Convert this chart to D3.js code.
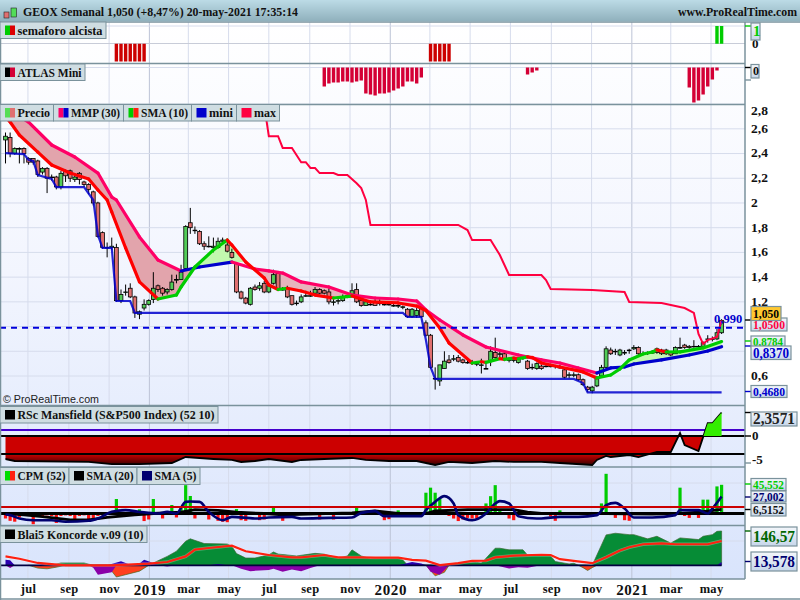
<!DOCTYPE html>
<html>
<head>
<meta charset="utf-8">
<script src="https://cdn.jsdelivr.net/npm/d3@7"></script>
<style>
  html, body { margin: 0; padding: 0; background: #fff; }
  svg { display: block; }
  text { font-family: "Liberation Serif", serif; font-weight: bold; }
</style>
</head>
<body>
<script>
// weekly candles, one entry per week, oldest first
const opens = [
  2.51, 2.53, 2.40, 2.44, 2.44, 2.36, 2.36, 2.34, 2.25, 2.28,
  2.21, 2.21, 2.13, 2.26, 2.26, 2.19, 2.24, 2.17, 2.15, 2.09,
  2.00, 1.76, 1.64, 1.64, 1.64, 1.21, 1.28, 1.31, 1.24, 1.10,
  1.15, 1.18, 1.22, 1.33, 1.31, 1.28, 1.30, 1.38, 1.38, 1.47,
  1.84, 1.78, 1.77, 1.67, 1.65, 1.64, 1.64, 1.69, 1.66, 1.60,
  1.51, 1.28, 1.23, 1.18, 1.32, 1.31, 1.35, 1.28, 1.35, 1.43,
  1.30, 1.31, 1.25, 1.19, 1.20, 1.25, 1.25, 1.27, 1.30, 1.29,
  1.28, 1.20, 1.21, 1.21, 1.25, 1.25, 1.30, 1.21, 1.17, 1.18,
  1.20, 1.19, 1.18, 1.18, 1.17, 1.17, 1.16, 1.14, 1.08, 1.09,
  1.15, 1.03, 0.93, 0.58, 0.56, 0.66, 0.73, 0.74, 0.75, 0.73,
  0.71, 0.71, 0.70, 0.69, 0.66, 0.72, 0.79, 0.78, 0.78, 0.73,
  0.73, 0.71, 0.75, 0.72, 0.67, 0.66, 0.68, 0.68, 0.68, 0.68,
  0.67, 0.65, 0.61, 0.61, 0.61, 0.57, 0.51, 0.48, 0.52, 0.60,
  0.67, 0.81, 0.80, 0.77, 0.79, 0.81, 0.82, 0.83, 0.78, 0.79,
  0.79, 0.82, 0.78, 0.81, 0.79, 0.78, 0.83, 0.85, 0.84, 0.84,
  0.84, 0.84, 0.90, 0.90, 0.90, 0.95
]
const closes = [
  2.54, 2.40, 2.44, 2.44, 2.40, 2.33, 2.33, 2.23, 2.28, 2.20,
  2.21, 2.13, 2.24, 2.22, 2.20, 2.21, 2.19, 2.15, 2.11, 2.00,
  1.73, 1.64, 1.64, 1.65, 1.21, 1.26, 1.28, 1.24, 1.11, 1.12,
  1.18, 1.21, 1.31, 1.30, 1.27, 1.30, 1.36, 1.38, 1.44, 1.81,
  1.80, 1.78, 1.67, 1.65, 1.65, 1.65, 1.69, 1.70, 1.61, 1.56,
  1.28, 1.23, 1.19, 1.31, 1.30, 1.33, 1.28, 1.33, 1.42, 1.30,
  1.30, 1.24, 1.18, 1.19, 1.24, 1.25, 1.25, 1.30, 1.27, 1.27,
  1.20, 1.20, 1.21, 1.24, 1.25, 1.29, 1.20, 1.17, 1.20, 1.18,
  1.17, 1.19, 1.18, 1.18, 1.17, 1.17, 1.16, 1.08, 1.14, 1.13,
  1.08, 0.93, 0.67, 0.58, 0.69, 0.72, 0.71, 0.74, 0.72, 0.71,
  0.71, 0.71, 0.70, 0.69, 0.66, 0.80, 0.75, 0.78, 0.74, 0.73,
  0.73, 0.74, 0.75, 0.66, 0.67, 0.70, 0.66, 0.68, 0.68, 0.68,
  0.67, 0.59, 0.61, 0.61, 0.57, 0.53, 0.49, 0.51, 0.59, 0.67,
  0.82, 0.78, 0.80, 0.81, 0.79, 0.81, 0.83, 0.78, 0.78, 0.79,
  0.79, 0.79, 0.81, 0.78, 0.77, 0.83, 0.83, 0.83, 0.83, 0.84,
  0.84, 0.87, 0.90, 0.90, 0.95, 1.05
]
const highs = [
  2.57, 2.57, 2.45, 2.45, 2.45, 2.37, 2.36, 2.35, 2.29, 2.29,
  2.23, 2.22, 2.26, 2.27, 2.27, 2.24, 2.25, 2.18, 2.16, 2.10,
  2.01, 1.77, 1.68, 1.72, 1.67, 1.30, 1.34, 1.35, 1.25, 1.13,
  1.22, 1.22, 1.44, 1.34, 1.32, 1.31, 1.42, 1.42, 1.50, 1.82,
  1.96, 1.81, 1.78, 1.69, 1.73, 1.72, 1.72, 1.72, 1.71, 1.63,
  1.51, 1.29, 1.24, 1.32, 1.34, 1.36, 1.37, 1.35, 1.46, 1.45,
  1.32, 1.33, 1.25, 1.21, 1.26, 1.29, 1.29, 1.32, 1.31, 1.30,
  1.31, 1.22, 1.23, 1.26, 1.26, 1.35, 1.35, 1.22, 1.22, 1.21,
  1.22, 1.22, 1.20, 1.20, 1.19, 1.18, 1.17, 1.15, 1.15, 1.15,
  1.16, 1.05, 0.94, 0.67, 0.69, 0.80, 0.77, 0.77, 0.77, 0.74,
  0.73, 0.73, 0.72, 0.74, 0.70, 0.84, 0.91, 0.81, 0.80, 0.75,
  0.75, 0.75, 0.77, 0.73, 0.70, 0.71, 0.69, 0.70, 0.70, 0.69,
  0.69, 0.66, 0.63, 0.63, 0.62, 0.58, 0.52, 0.52, 0.60, 0.69,
  0.84, 0.83, 0.82, 0.82, 0.81, 0.82, 0.85, 0.84, 0.80, 0.80,
  0.81, 0.83, 0.82, 0.82, 0.80, 0.84, 0.91, 0.86, 0.85, 0.89,
  0.85, 0.88, 0.93, 0.92, 0.98, 1.06
]
const lows = [
  2.32, 2.37, 2.39, 2.32, 2.32, 2.31, 2.31, 2.21, 2.23, 2.08,
  2.18, 2.11, 2.11, 2.17, 2.17, 2.17, 2.15, 2.13, 2.07, 1.98,
  1.72, 1.63, 1.56, 1.62, 1.20, 1.19, 1.25, 1.23, 1.07, 1.06,
  1.13, 1.17, 1.19, 1.28, 1.25, 1.26, 1.29, 1.35, 1.38, 1.46,
  1.75, 1.75, 1.66, 1.62, 1.64, 1.60, 1.63, 1.67, 1.60, 1.55,
  1.27, 1.22, 1.18, 1.17, 1.29, 1.29, 1.27, 1.27, 1.34, 1.29,
  1.29, 1.23, 1.17, 1.17, 1.19, 1.24, 1.24, 1.26, 1.26, 1.26,
  1.18, 1.17, 1.18, 1.20, 1.23, 1.24, 1.19, 1.16, 1.17, 1.17,
  1.17, 1.17, 1.17, 1.17, 1.16, 1.15, 1.14, 1.07, 1.07, 1.07,
  1.07, 0.92, 0.66, 0.49, 0.52, 0.66, 0.70, 0.72, 0.71, 0.70,
  0.70, 0.69, 0.68, 0.62, 0.66, 0.68, 0.74, 0.75, 0.72, 0.71,
  0.71, 0.70, 0.73, 0.65, 0.65, 0.65, 0.65, 0.67, 0.67, 0.66,
  0.66, 0.58, 0.58, 0.59, 0.56, 0.52, 0.47, 0.46, 0.51, 0.59,
  0.66, 0.77, 0.77, 0.76, 0.77, 0.78, 0.81, 0.77, 0.77, 0.77,
  0.78, 0.78, 0.77, 0.77, 0.76, 0.78, 0.82, 0.82, 0.82, 0.83,
  0.83, 0.83, 0.87, 0.88, 0.89, 0.94
]

// price pane lines, week number + value
const mmpWeeks = [0, 5, 10, 15, 20, 23, 24, 29, 33, 38, 42, 49, 54, 57, 60, 64, 70, 75, 80, 85, 89, 91, 94, 99, 104, 111, 116, 120, 124, 128, 131, 134, 136, 142, 148, 152, 155]
const mmpValues = [2.77, 2.655, 2.469, 2.372, 2.242, 2.048, 2.024, 1.725, 1.539, 1.45, 1.482, 1.522, 1.466, 1.45, 1.433, 1.361, 1.32, 1.255, 1.231, 1.223, 1.207, 1.134, 1.053, 0.932, 0.835, 0.77, 0.73, 0.705, 0.665, 0.624, 0.665, 0.673, 0.697, 0.73, 0.77, 0.802, 0.837]
const smaWeeks = [0, 1, 3, 7, 10, 14, 18, 20, 22, 23, 26, 29, 33, 37, 38, 41, 45, 48, 49, 52, 56, 57, 59, 61, 64, 67, 71, 75, 79, 85, 89, 91, 94, 96, 101, 103, 104, 105, 107, 108, 110, 111, 113, 114, 116, 120, 125, 128, 131, 133, 135, 138, 140, 141, 143, 146, 151, 155]
const smaValues = [2.696, 2.655, 2.55, 2.412, 2.307, 2.242, 2.194, 2.105, 2.024, 1.927, 1.636, 1.361, 1.223, 1.255, 1.32, 1.482, 1.62, 1.7, 1.66, 1.522, 1.393, 1.336, 1.3, 1.31, 1.288, 1.255, 1.231, 1.247, 1.199, 1.191, 1.166, 1.13, 0.988, 0.867, 0.705, 0.715, 0.71, 0.72, 0.74, 0.735, 0.745, 0.74, 0.755, 0.75, 0.705, 0.673, 0.633, 0.584, 0.608, 0.657, 0.73, 0.778, 0.794, 0.81, 0.794, 0.795, 0.827, 0.8784]
const miniWeeks = [0, 4, 5, 6, 7, 10, 11, 17, 19, 20, 21, 23, 24, 27, 28, 86, 87, 90, 91, 92, 93, 123, 125, 126, 155]
const miniValues = [2.404, 2.396, 2.348, 2.34, 2.226, 2.194, 2.129, 2.129, 2.024, 1.741, 1.636, 1.636, 1.207, 1.207, 1.11, 1.11, 1.078, 1.078, 0.891, 0.673, 0.576, 0.576, 0.543, 0.468, 0.468]
const maxWeeks = [56, 57, 59, 60, 62, 64, 65, 66, 67, 68, 71, 72, 74, 76, 77, 78, 79, 98, 100, 101, 105, 107, 109, 116, 117, 118, 127, 134, 135, 142, 147, 149, 150, 151, 152, 154, 155]
const maxValues = [2.79, 2.54, 2.54, 2.445, 2.445, 2.33, 2.33, 2.283, 2.283, 2.242, 2.242, 2.226, 2.226, 2.16, 2.12, 2.024, 1.822, 1.822, 1.781, 1.7, 1.7, 1.579, 1.417, 1.417, 1.377, 1.304, 1.296, 1.28, 1.199, 1.191, 1.15, 1.11, 0.94, 0.86, 0.891, 0.916, 1.05]
const priceTicks = [0.6, 1.2, 1.4, 1.6, 1.8, 2, 2.2, 2.4, 2.6, 2.8]
const priceGrid = [0.6, 0.8, 1, 1.2, 1.4, 1.6, 1.8, 2, 2.2, 2.4, 2.6, 2.8]
const resistance = 0.99

// indicator panes
const semaforoWeeks = [24, 25, 26, 27, 28, 29, 30, 92, 93, 94, 95, 96, 154, 155]
const semaforoValues = [-1, -1, -1, -1, -1, -1, -1, -1, -1, -1, -1, -1, 1, 1]
const atlasWeeks = [69, 70, 71, 72, 73, 74, 75, 76, 77, 78, 79, 80, 81, 82, 83, 84, 85, 86, 87, 88, 89, 90, 113, 114, 115, 148, 149, 150, 151, 152, 153, 154]
const atlasValues = [-1.52, -1.28, -1.2, -1.2, -1.12, -1.12, -1.2, -1.12, -1.04, -2.08, -2.16, -2.24, -2.08, -2.08, -2, -1.84, -1.68, -1.52, -1.12, -1.12, -1.28, -0.8, -0.56, -0.4, -0.24, -1.6, -2.8, -2.64, -2.16, -1.52, -0.96, -0.24]
const rscWeeks = [0, 2, 18, 23, 29, 36, 39, 42, 45, 49, 51, 54, 57, 62, 64, 69, 75, 78, 83, 89, 93, 96, 101, 106, 110, 116, 120, 127, 128, 130, 131, 135, 137, 141, 144, 146, 147, 150, 152, 153, 155]
const rscValues = [-4.26, -4.63, -4.81, -5.19, -5.19, -5, -3.89, -4.07, -4.26, -4.44, -4.81, -4.63, -4.26, -4.81, -4.44, -4.26, -4.07, -4.44, -4.63, -4.63, -5.37, -4.81, -5, -4.63, -4.81, -4.81, -5, -5.37, -4.44, -3.7, -3.89, -3.52, -3.89, -2.96, -2.96, 0.29, -1.67, -2.78, 1.28, 1.28, 2.3571]
const rscLevels = [0.59, 0, -3.33]
const cpmValues = [
  -7.9, -11.6, -13, -6.3, -3, -3, -17, -4, -4, -3,
  -4, -15, -4, -3, -4, -10.6, -4, -3, -9.5, -11.6,
  -4, -3, -2, -2, 23, -1, -1, -1, -1, 6.7,
  -12, -9.5, 23, -2, -7.9, -1, 13.5, -6.3, 8.7, 45,
  27.8, -7.9, -1, -1, -9.5, -2, -11.6, -13, -13.8, -2,
  7, -10.6, -11.6, -2, -2, -10.6, -9.5, -2, 9, -2,
  -11.6, -1, -1, -2, -2, -2, -2, -2, -9.5, -2,
  -2, -9.5, -2, -2, -2, -1, 9, 3.7, 1, 1,
  1, 1, -10.6, -9, -1, 5, -1, -1, -1, -1,
  -1, 33, 41, 33, 24, -1, -4, -8, -12, -9.5,
  -7, -8, -8, -1, 16, 27.5, 45, 5, -2, -8,
  -10.6, -2, -2, -2, -2, -2, -2, -2, -5, -11.6,
  5, -2, -2, -2, -1, -1, -3, -2, -1, 16,
  63, -1, -7, -1, -10.6, -11.6, -2, -2, -2, -2,
  -2, -1, -1, -1, -1, -1, 41, -4, -7, -1,
  -7, 22, 22, 1, 43, 45.552
]
const cpmLevel = 10.3
const sma20Weeks = [0, 4, 8, 14, 18, 22, 28, 32, 38, 41, 46, 50, 56, 60, 75, 80, 85, 91, 93, 100, 110, 113, 116, 130, 140, 146, 150, 155]
const sma20Values = [0, -2, -5, -10, -10, -6, -2, 0, 2, 6, 5, 2, 0, -2, 1, 4, 0, 0, 4, 6, 6, 2, 0, 0, -1, 0, 2, 6.5152]
const sma5Weeks = [0, 1, 3, 6, 10, 13, 18, 20, 23, 26, 29, 33, 35, 37, 39, 40, 42, 44, 47, 49, 54, 57, 62, 64, 70, 75, 77, 80, 82, 90, 91, 93, 95, 97, 98, 101, 104, 106, 107, 109, 111, 115, 116, 120, 124, 128, 130, 132, 134, 136, 140, 145, 146, 150, 152, 153, 155]
const sma5Values = [-1.6, -2.6, -7.9, -10.6, -10.6, -13, -11.6, -7.9, 2.6, 5.3, 2.6, 0, 2.6, 0, 18.5, 19, 18.5, 2.6, -10.6, -5.3, -7.9, -6.3, -5.3, -7.9, -6.9, -6.3, 1, 3.7, -4.2, -4.2, 5.3, 18.5, 27.5, 15.9, -2.6, -10.6, 0, 15.9, 19.6, 15.9, -4.2, -7.9, -7.9, -5.3, -5.3, -2.6, 13.2, 16.9, 7.9, -6.3, -6.3, -2.6, 5.3, 5.3, 0, 7.9, 27.002]
const konGreenWeeks = [10, 12, 17, 19, 31, 32, 35, 37, 39, 40, 43, 48, 49, 50, 52, 54, 57, 58, 59, 63, 67, 69, 72, 74, 75, 77, 79, 85, 86, 87, 96, 98, 102, 103, 104, 106, 107, 109, 112, 113, 116, 118, 119, 122, 123, 124, 127, 130, 132, 135, 136, 139, 141, 144, 146, 150, 151, 153, 154, 155]
const konGreenValues = [0, 10, 10, 0, 0, 10, 38, 60, 103, 113, 93, 91, 81, 50, 31, 31, 45, 57, 48, 40, 51, 48, 30, 40, 66, 40, 28.5, 30, 23, 1, 0, 10, 12, 10, 30, 73, 73, 66, 66, 44, 45, 40, 16, 6, 9, 0, 0, 130, 137, 131, 131, 113, 124, 95, 117, 110, 124, 131, 145, 146.57]
const konRedWeeks = [5, 7, 9, 11, 13, 22, 24, 26, 29, 31, 91, 93, 95, 96, 124, 125, 126, 127, 128]
const konRedValues = [0, -12, -15, -8, 0, 0, -50, -40, -25, 0, 0, -45, -30, 0, 0, -10, -22, -10, 0]
const konPurpleWeeks = [0, 1, 2, 18, 19, 20, 23, 24, 33, 35, 37, 49, 51, 53, 55, 57, 58, 60, 62, 64, 66, 68, 91, 92, 94, 95, 96, 106, 109, 111, 113, 115, 116]
const konPurpleValues = [0, -12, 0, 0, -11, -40, -30, 0, 0, -5, 0, 0, -15, -25, -22, -20, -15, -28, -18, -25, -12, 0, 0, -28, -40, -20, 0, 0, -14, -8, -10, -3, 0]
const konBlueWeeks = [0, 1, 2, 6, 8, 9, 22, 25, 27, 29, 30, 32, 33, 44, 46, 48, 85, 88, 90, 91, 154, 155]
const konBlueValues = [24, 22, 0, 0, 6, 0, 0, 17, 2, 8, 24, 10, 0, 0, 6, 0, 0, 14, 8, 0, 0, 13.578]
const konLineWeeks = [0, 3, 7, 13, 23, 31, 35, 39, 41, 44, 49, 52, 57, 62, 64, 69, 72, 77, 80, 85, 88, 91, 94, 98, 101, 104, 106, 110, 116, 118, 120, 123, 127, 130, 133, 135, 138, 142, 145, 152, 155]
const konLineValues = [38, 28, 10, 0, 0, 7, 14, 38, 67, 74, 84, 60, 44, 34, 34, 44, 34, 34, 33, 33, 23, 20, 1, 9, 19, 20, 34, 41, 45, 44, 26, 19, 9, 34, 63, 77, 90, 94, 90, 90, 104]

// x axis
const tickDates = ['2018-07-01', '2018-09-01', '2018-11-01', '2019-01-01', '2019-03-01', '2019-05-01', '2019-07-01', '2019-09-01', '2019-11-01', '2020-01-01', '2020-03-01', '2020-05-01', '2020-07-01', '2020-09-01', '2020-11-01', '2021-01-01', '2021-03-01', '2021-05-01'].map(d => new Date(d + 'T00:00:00Z'))
const tickLabels = ['jul', 'sep', 'nov', '2019', 'mar', 'may', 'jul', 'sep', 'nov', '2020', 'mar', 'may', 'jul', 'sep', 'nov', '2021', 'mar', 'may']

const W = 800
const H = 600
const plotR = 745
const BORDER = '#7a929c'
const lastWeek = Date.UTC(2021, 4, 17)
const weekDate = i => new Date(lastWeek - (opens.length - 1 - i) * 7 * 864e5)

const x = d3.scaleUtc().domain([weekDate(0), weekDate(opens.length - 1)]).range([5.5, 721.6])
const xw = i => x(weekDate(i))
const yPrice = d3.scaleLinear().domain([0.6, 2.8]).range([376, 104.1])
const ySemaforo = d3.scaleLinear().domain([-1, 1]).range([61.5, 26])
const yAtlas = d3.scaleLinear().domain([-1, 0]).range([80, 67.5])
const yRsc = d3.scaleLinear().domain([-5, 0, 2.3571]).range([463, 436, 412.5])
const yCpm = d3.scaleLinear().domain([0, 45.552]).range([513.5, 484.8])
const yKon = d3.scaleLinear().domain([0, 146.57]).range([565.3, 531])

const zip = (weeks, values) => weeks.map((w, i) => ({ w, v: values[i] }))
const svg = d3.select('body').append('svg').attr('width', W).attr('height', H)
const defs = svg.append('defs')

function gradient (id, x2, y2, stops, units) {
  const g = defs.append('linearGradient').attr('id', id).attr('x1', 0).attr('y1', 0).attr('x2', x2).attr('y2', y2)
  if (units) g.attr('gradientUnits', 'userSpaceOnUse').attr('y1', units[0]).attr('y2', units[1]).attr('x2', 0)
  stops.forEach(s => g.append('stop').attr('offset', s[0]).attr('stop-color', s[1]))
}
gradient('bgGrad', 0, 1, [[0, '#ffffff'], [0.45, '#f2f5fe'], [1, '#d9e4fc']])
gradient('headGrad', 0, 1, [[0, '#bcdbe6'], [1, '#8fb0bc']])
gradient('tagGrad', 0, 1, [[0, '#f4f7fb'], [1, '#c6d6ea']])
gradient('rscGrad', 0, 0, [[0, '#cc0000'], [0.6, '#cc0000'], [0.95, '#400000']], [436, 466])

function clip (id, x0, y0, w, h) {
  defs.append('clipPath').attr('id', id).append('rect').attr('x', x0).attr('y', y0).attr('width', w).attr('height', h)
}
clip('paneMain', 0, 104.5, plotR, 300.5)
clip('paneRsc', 0, 406, plotR, 61)
clip('rscUp', 690, 406, 55, 30)
clip('rscDown', 0, 436, plotR, 31)
clip('paneCpm', 0, 467.5, plotR, 58)
clip('paneKon', 0, 526, plotR, 53)

// background and grid
svg.append('rect').attr('x', 0).attr('y', 22).attr('width', plotR).attr('height', 557).attr('fill', 'url(#bgGrad)')

const grid = svg.append('g').attr('fill', 'none')
grid.selectAll('line.v').data(tickDates).enter().append('line')
  .attr('x1', d => x(d)).attr('x2', d => x(d)).attr('y1', 22).attr('y2', 579)
  .attr('stroke', (d, i) => tickLabels[i].startsWith('20') ? '#bcc3d6' : '#d6dcec')
const hLines = [26, 43.5, 67.5, 483, 541].concat(priceGrid.map(yPrice))
grid.selectAll('line.h').data(hLines).enter().append('line')
  .attr('x1', 0).attr('x2', plotR).attr('y1', d => d).attr('y2', d => d)
  .attr('stroke', (d, i) => i === 1 ? '#c8ccd8' : '#d6dcec')

// generic bars on a baseline
function bars (g, weeks, values, y, color, w) {
  g.selectAll('rect').data(zip(weeks, values)).enter().append('rect')
    .attr('x', d => xw(d.w) - w / 2)
    .attr('width', w)
    .attr('y', d => Math.min(y(d.v), y(0)))
    .attr('height', d => Math.abs(y(d.v) - y(0)))
    .attr('fill', d => color(d.v))
}

bars(svg.append('g'), semaforoWeeks, semaforoValues, ySemaforo, v => v > 0 ? '#00cc00' : '#cc0000', 3.4)
bars(svg.append('g'), atlasWeeks, atlasValues, yAtlas, () => '#d40035', 3.4)

// price pane
const main = svg.append('g').attr('clip-path', 'url(#paneMain)')
const lineP = d3.line().x(d => xw(d.w)).y(d => yPrice(d.v))
const mmp = zip(mmpWeeks, mmpValues)
const sma = zip(smaWeeks, smaValues)

// fill between the two averages, split where they cross
function band (from, to, fill) {
  const a = sma.filter(d => d.w >= from && d.w <= to)
  const b = mmp.filter(d => d.w >= from && d.w <= to).reverse()
  main.append('path').attr('d', lineP(a.concat(b)) + 'Z').attr('fill', fill)
}
band(0, 41, '#e2a4ac')
band(41, 52, '#c2f8ae')
band(52, 85, '#e6b4bc')
band(85, 128, '#e6c2cc')
band(133, 155, '#c6f8b4')

const cy = d3.range(opens.length)
main.selectAll('line.wick').data(cy).enter().append('line')
  .attr('x1', i => xw(i)).attr('x2', i => xw(i))
  .attr('y1', i => yPrice(highs[i])).attr('y2', i => yPrice(lows[i]))
  .attr('stroke', '#000').attr('stroke-width', 1)
main.selectAll('rect.body').data(cy).enter().append('rect')
  .attr('x', i => xw(i) - 1.9)
  .attr('width', 3.8)
  .attr('y', i => yPrice(Math.max(opens[i], closes[i])))
  .attr('height', i => Math.max(0.6, Math.abs(yPrice(opens[i]) - yPrice(closes[i]))))
  .attr('fill', i => closes[i] >= opens[i] ? '#52cc58' : '#e07070')
  .attr('stroke', '#000').attr('stroke-width', 0.8)

// colour a line by its direction, knot to knot
function directional (data, up, down, width) {
  d3.pairs(data).forEach(p => {
    main.append('path').attr('d', lineP(p)).attr('fill', 'none')
      .attr('stroke', p[1].v >= p[0].v ? up : down)
      .attr('stroke-width', width).attr('stroke-linecap', 'round')
  })
}
directional(mmp, '#0000cc', '#ff0066', 3.2)
directional(sma, '#00cc00', '#ff0000', 3.2)

main.append('path').attr('d', lineP(zip(miniWeeks, miniValues))).attr('fill', 'none')
  .attr('stroke', '#0000cc').attr('stroke-width', 2.2).attr('stroke-opacity', 0.85)
main.append('path').attr('d', lineP(zip(maxWeeks, maxValues))).attr('fill', 'none')
  .attr('stroke', '#ff0040').attr('stroke-width', 2)
main.append('line').attr('x1', 0).attr('x2', plotR).attr('y1', yPrice(resistance)).attr('y2', yPrice(resistance))
  .attr('stroke', '#0000dd').attr('stroke-width', 2).attr('stroke-dasharray', '6 5')

svg.append('text').attr('x', 3).attr('y', 403).attr('font-size', 11.5).attr('fill', '#222')
  .attr('textLength', 96).attr('lengthAdjust', 'spacingAndGlyphs')
  .style('font-family', '"Liberation Sans", sans-serif').style('font-weight', 'normal').text('© ProRealTime.com')

// RSc Mansfield
const rscData = zip(rscWeeks, rscValues)
const rscArea = d3.area().x(d => xw(d.w)).y0(yRsc(0)).y1(d => yRsc(d.v))
const rsc = svg.append('g').attr('clip-path', 'url(#paneRsc)')
rsc.append('path').attr('d', rscArea(rscData)).attr('fill', 'url(#rscGrad)').attr('clip-path', 'url(#rscDown)')
svg.append('g').attr('clip-path', 'url(#rscUp)').append('path').attr('d', rscArea(rscData)).attr('fill', '#33ee00')
rsc.selectAll('line.l').data(rscLevels).enter().append('line')
  .attr('x1', 0).attr('x2', plotR)
  .attr('y1', d => d === 0.59 ? 430 : yRsc(d)).attr('y2', d => d === 0.59 ? 430 : yRsc(d))
  .attr('stroke', d => d === 0.59 ? '#4400cc' : '#000').attr('stroke-width', 2)
rsc.append('path')
  .attr('d', d3.line().x(d => xw(d.w)).y(d => yRsc(d.v))(rscData))
  .attr('fill', 'none').attr('stroke', '#000').attr('stroke-width', 1.8)

// CPM
const cpm = svg.append('g').attr('clip-path', 'url(#paneCpm)')
bars(cpm, cy, cpmValues, yCpm, v => v >= 0 ? '#00cc00' : '#ff1010', 3.2)
const lineC = d3.line().x(d => xw(d.w)).y(d => yCpm(d.v))
cpm.append('line').attr('x1', 0).attr('x2', plotR).attr('y1', yCpm(0)).attr('y2', yCpm(0)).attr('stroke', '#000').attr('stroke-width', 2.8)
cpm.append('path').attr('d', lineC(zip(sma20Weeks, sma20Values))).attr('fill', 'none').attr('stroke', '#000').attr('stroke-width', 2.8)
cpm.append('path').attr('d', d3.line().curve(d3.curveMonotoneX).x(d => xw(d.w)).y(d => yCpm(d.v))(zip(sma5Weeks, sma5Values))).attr('fill', 'none').attr('stroke', '#000070').attr('stroke-width', 2.6)
cpm.append('line').attr('x1', 0).attr('x2', plotR).attr('y1', yCpm(cpmLevel)).attr('y2', yCpm(cpmLevel)).attr('stroke', '#cc0000').attr('stroke-width', 2)

// Koncorde
const kon = svg.append('g').attr('clip-path', 'url(#paneKon)')
const konArea = d3.area().x(d => xw(d.w)).y0(yKon(0)).y1(d => yKon(d.v))
kon.append('path').attr('d', konArea(zip(konGreenWeeks, konGreenValues))).attr('fill', '#068c36').attr('stroke', '#3a6a30').attr('stroke-width', 0.7)
kon.append('path').attr('d', konArea(zip(konRedWeeks, konRedValues))).attr('fill', '#ff4020').attr('stroke', '#4a6a20').attr('stroke-width', 0.7)
kon.append('path').attr('d', konArea(zip(konPurpleWeeks, konPurpleValues))).attr('fill', '#8a00a8')
kon.append('path').attr('d', konArea(zip(konBlueWeeks, konBlueValues))).attr('fill', '#2a00b0')
kon.append('line').attr('x1', 0).attr('x2', xw(155)).attr('y1', yKon(0)).attr('y2', yKon(0)).attr('stroke', '#000040').attr('stroke-width', 1.8)
const konLine = d3.line().x(d => xw(d.w)).y(d => yKon(d.v))
const konData = zip(konLineWeeks, konLineValues)
kon.append('path').attr('d', konLine(konData)).attr('fill', 'none').attr('stroke', '#fff').attr('stroke-width', 3.4).attr('stroke-opacity', 0.3)
kon.append('path').attr('d', konLine(konData)).attr('fill', 'none').attr('stroke', '#ff2010').attr('stroke-width', 2.2)

// frames
const frameLines = [[0, 22, W, 22], [0, 63.5, plotR, 63.5], [0, 104.5, plotR, 104.5], [0, 405.5, plotR, 405.5], [0, 467, plotR, 467], [0, 525.5, plotR, 525.5], [0, 579, plotR, 579], [plotR, 22, plotR, 579], [0.5, 0, 0.5, H], [0, 599, W, 599]]
svg.selectAll('line.frame').data(frameLines).enter().append('line')
  .attr('x1', d => d[0]).attr('y1', d => d[1]).attr('x2', d => d[2]).attr('y2', d => d[3])
  .attr('stroke', BORDER).attr('stroke-width', 1.5)

// header
svg.append('rect').attr('x', 0).attr('y', 0).attr('width', W).attr('height', 21.5).attr('fill', 'url(#headGrad)')
svg.append('rect').attr('x', 4).attr('y', 12).attr('width', 5).attr('height', 6).attr('fill', '#e07070').attr('stroke', '#222').attr('stroke-width', 0.6)
svg.append('rect').attr('x', 11).attr('y', 8).attr('width', 5.5).attr('height', 9).attr('fill', '#52dd58').attr('stroke', '#222').attr('stroke-width', 0.6)
svg.append('text').attr('x', 23).attr('y', 16).attr('font-size', 13).attr('fill', '#111')
  .attr('textLength', 275).attr('lengthAdjust', 'spacingAndGlyphs').text('GEOX Semanal 1,050 (+8,47%) 20-may-2021 17:35:14')
svg.append('text').attr('x', 678).attr('y', 16).attr('font-size', 12.5).attr('fill', '#111')
  .attr('textLength', 119).attr('lengthAdjust', 'spacingAndGlyphs').text('www.ProRealTime.com')

// legends: [x, width, label, swatch colours]
function legend (y, h, cells) {
  cells.forEach(c => {
    const g = svg.append('g')
    g.append('rect').attr('x', c[0]).attr('y', y).attr('width', c[1]).attr('height', h).attr('fill', '#cfdde2').attr('stroke', BORDER).attr('stroke-width', 1)
    const sw = c[3].length === 1 ? 10 : 5
    c[3].forEach((col, i) => g.append('rect').attr('x', c[0] + 5 + i * 5).attr('y', y + 3.5).attr('width', sw).attr('height', 9.5).attr('fill', col))
    g.append('text').attr('x', c[0] + 17.5).attr('y', y + 12.5).attr('font-size', 13).attr('fill', '#111')
      .attr('textLength', c[1] - 21).attr('lengthAdjust', 'spacingAndGlyphs').text(c[2])
  })
}
legend(22, 16.5, [[0, 106, 'semaforo alcista', ['#00cc00', '#dd0000']]])
legend(64, 16.5, [[0, 85, 'ATLAS Mini', ['#000', '#d40035']]])
legend(104.5, 16.5, [[0, 53.5, 'Precio', ['#55dd55', '#e07070']], [53.5, 70, 'MMP (30)', ['#ff0066', '#0000cc']], [123.5, 68, 'SMA (10)', ['#00cc00', '#ff2010']], [191.5, 45, 'mini', ['#0000cc']], [236.5, 43, 'max', ['#ff0040']]])
legend(406.5, 16.5, [[0, 218, 'RSc Mansfield (S&P500 Index) (52 10)', ['#000']]])
legend(467.5, 17, [[0, 69, 'CPM (52)', ['#00dd00', '#ff2010']], [69, 68, 'SMA (20)', ['#000']], [137, 63, 'SMA (5)', ['#000070']]])
legend(526, 16.5, [[0, 147, 'Blai5 Koncorde v.09 (10)', ['#000']]])

// axes
const fmtComma = d => String(d).replace('.', ',')
const priceAxis = svg.append('g').attr('transform', 'translate(' + 748 + ',0)')
  .call(d3.axisRight(yPrice).tickValues(priceTicks).tickSize(0).tickFormat(fmtComma))
priceAxis.select('.domain').remove()
priceAxis.selectAll('text').attr('font-size', 13.5).attr('fill', '#111').attr('font-family', null)
  .attr('dy', (d) => d === 2.8 ? '0.8em' : '0.25em')

const dateAxis = svg.append('g').attr('transform', 'translate(0,579)')
  .call(d3.axisBottom(x).tickValues(tickDates).tickSize(0).tickFormat((d, i) => tickLabels[i]))
dateAxis.select('.domain').remove()
dateAxis.selectAll('text').attr('y', 5).attr('fill', '#111').attr('font-family', null)
  .attr('font-size', (d, i) => tickLabels[i].startsWith('20') ? 15 : 12.5)
  .attr('letter-spacing', (d, i) => tickLabels[i].startsWith('20') ? 0.6 : 0.3)

// right side value tags
function tag (x1, y0, y1, label, color, size, bg) {
  svg.append('rect').attr('x', 751).attr('y', y0).attr('width', x1 - 751).attr('height', y1 - y0)
    .attr('fill', bg || 'url(#tagGrad)').attr('stroke', BORDER).attr('stroke-width', 1.2)
  const t = svg.append('text').attr('x', 753).attr('y', (y0 + y1) / 2 + size * 0.33).attr('font-size', size).attr('fill', color).text(label)
  if (label.length > 2) t.attr('textLength', x1 - 755).attr('lengthAdjust', 'spacingAndGlyphs')
}
function tick (y, color) {
  svg.append('line').attr('x1', 745).attr('x2', 751).attr('y1', y).attr('y2', y).attr('stroke', color).attr('stroke-width', 1.4)
}
function plain (x0, y, label, color, size) {
  svg.append('text').attr('x', x0).attr('y', y).attr('font-size', size).attr('fill', color).text(label)
}

tick(26, '#00cc00')
plain(752, 47.5, '0', '#111', 13)
tag(760, 23, 40, '1', '#00cc00', 15)
tick(67.5, '#000')
tick(80, BORDER)
tag(759, 64.5, 78, '0', '#111', 12)
tick(320, '#000')
tick(341, '#00cc00')
tick(346, '#0000cc')
tick(391.5, '#0000cc')
tag(785, 336, 347, '0,8784', '#00cc00', 12.5)
tag(791, 346, 359.5, '0,8370', '#0000cc', 14.5)
tag(787, 318, 331, '1,0500', '#ff0040', 13)
tag(781, 306.5, 320.5, '1,050', '#000', 12.5, '#ffc830')
tag(787, 385.5, 397.5, '0,4680', '#0000cc', 13)
plain(714, 323, '0,990', '#0000cc', 12.5)
tick(412.5, '#000')
tick(436, '#000')
tick(463, BORDER)
tag(797, 412, 426, '2,3571', '#222', 16.5)
plain(752, 440, '0', '#111', 13)
plain(752, 464, '-5', '#111', 13)
tick(484, '#00cc00')
tick(497, '#000070')
tick(509.5, '#000')
tag(786, 478.5, 490.5, '45,552', '#00cc00', 12.5)
tag(786, 491, 502, '27,002', '#000070', 12.5)
tag(786, 503.5, 516, '6,5152', '#111', 12.5)
tick(531, '#006600')
tick(561.5, '#000070')
tag(797, 527, 546, '146,57', '#006600', 17.5)
tag(797, 552, 571, '13,578', '#000070', 17.5)
</script>
</body>
</html>
